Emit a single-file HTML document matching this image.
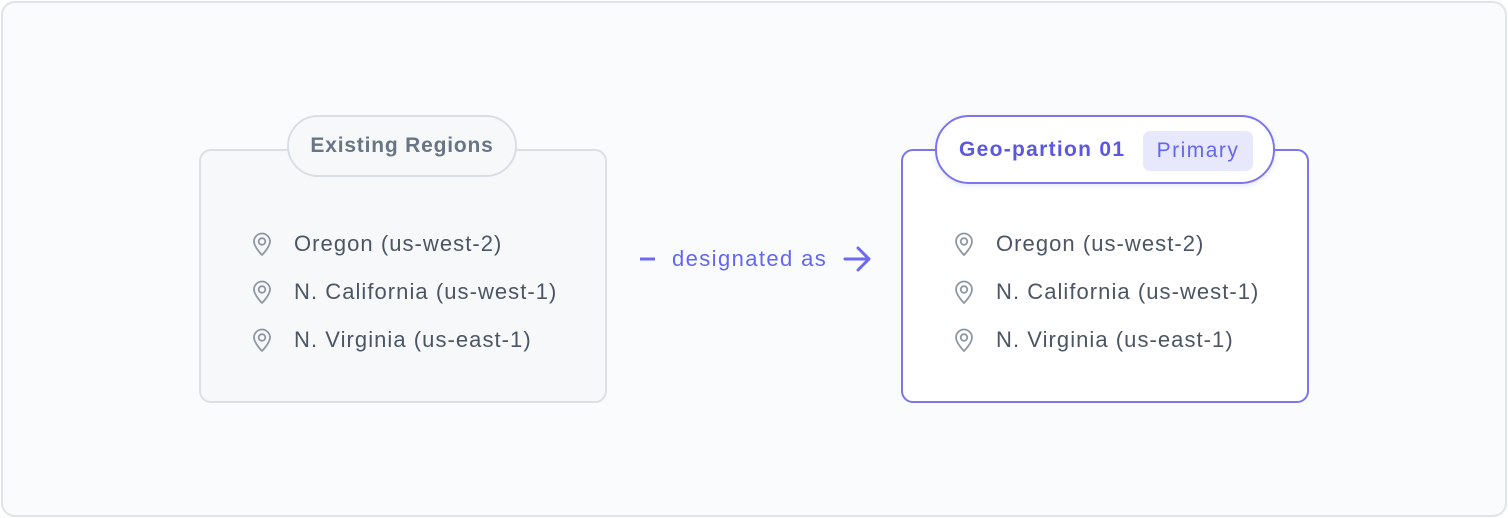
<!DOCTYPE html>
<html><head><meta charset="utf-8"><style>
*{box-sizing:border-box;margin:0;padding:0}
body{width:1508px;height:518px;background:#fff;font-family:"Liberation Sans",sans-serif;position:relative;overflow:hidden}
.outer{position:absolute;left:1px;top:1px;width:1506px;height:516px;border:2px solid #dfe4ea;border-radius:14px;background:#fafbfd}
.box{position:absolute;top:149px;width:408px;height:254px;border-radius:12px}
.l{left:199px;border:2px solid #dcdfe4;background:#f7f8fa}
.r{left:901px;border:2px solid #7b76ee;background:#fff}
.pill{position:absolute;border-radius:34px;display:flex;align-items:center;font-weight:bold;font-size:21px}
.pl{left:287px;top:115px;width:230px;height:62px;border:2px solid #d9dee4;background:#f7f8fa;color:#687585;justify-content:center;letter-spacing:0.8px}
.pr{left:935px;top:115px;width:340px;height:69px;border:2px solid #7b76ee;background:#fff;color:#5b57e0;padding-left:22px;letter-spacing:1.3px;box-shadow:0 2px 6px rgba(99,102,241,.15)}
.badge{position:absolute;left:206px;top:14px;width:110px;height:40px;border-radius:7px;background:#e8e8fc;color:#6366f1;font-weight:normal;display:flex;align-items:center;justify-content:center;font-size:21px;letter-spacing:1.5px}
.item{position:absolute;font-size:22px;letter-spacing:1.05px;color:#4b5563;height:26px;line-height:26px}
.item svg{position:absolute;left:-43px;top:1px}
.lab{position:absolute;left:672px;top:246px;font-size:22px;letter-spacing:1.4px;color:#6366f1;line-height:26px}
</style></head><body>
<div class="outer"></div>
<div class="box l"></div>
<div class="box r"></div>
<div class="pill pl">Existing Regions</div>
<div class="pill pr">Geo-partion 01<div class="badge">Primary</div></div>

<svg width="0" height="0" style="position:absolute"><defs>
<g id="pin"><path d="M11 23 C11 23 3 15 3 9.5 A8 8 0 0 1 19 9.5 C19 15 11 23 11 23Z" fill="none" stroke="#8e98a4" stroke-width="1.8" stroke-linejoin="round"/><circle cx="11" cy="9.5" r="3.3" fill="none" stroke="#8e98a4" stroke-width="1.8"/></g>
</defs></svg>

<div class="item" style="left:294px;top:231px"><svg width="22" height="25"><use href="#pin"/></svg>Oregon (us-west-2)</div>
<div class="item" style="left:294px;top:279px"><svg width="22" height="25"><use href="#pin"/></svg>N. California (us-west-1)</div>
<div class="item" style="left:294px;top:327px"><svg width="22" height="25"><use href="#pin"/></svg>N. Virginia (us-east-1)</div>
<div class="item" style="left:996px;top:231px"><svg width="22" height="25"><use href="#pin"/></svg>Oregon (us-west-2)</div>
<div class="item" style="left:996px;top:279px"><svg width="22" height="25"><use href="#pin"/></svg>N. California (us-west-1)</div>
<div class="item" style="left:996px;top:327px"><svg width="22" height="25"><use href="#pin"/></svg>N. Virginia (us-east-1)</div>

<svg style="position:absolute;left:636px;top:245px" width="240" height="30">
<line x1="4" y1="14" x2="19" y2="14" stroke="#6d6af0" stroke-width="3"/>
<path d="M209 14 H233 M222 3 L233 14 L222 25" fill="none" stroke="#6d6af0" stroke-width="3" stroke-linecap="round" stroke-linejoin="round"/>
</svg>
<div class="lab">designated as</div>
</body></html>
